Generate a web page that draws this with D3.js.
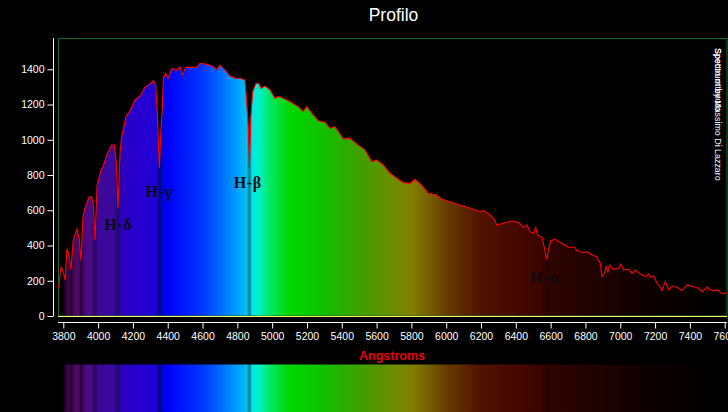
<!DOCTYPE html>
<html><head><meta charset="utf-8">
<script src="https://cdn.jsdelivr.net/npm/d3@7/dist/d3.min.js"></script>
<style>html,body{margin:0;background:#000;overflow:hidden}svg{display:block}text{font-family:"Liberation Sans",Arial,sans-serif}</style>
</head><body><svg id="c" width="728" height="412"></svg>
<script>
const chartTitle = "Profilo";
const xTitle = "Angstroms";
const xTicks = [3800,4000,4200,4400,4600,4800,5000,5200,5400,5600,5800,6000,6200,6400,6600,6800,7000,7200,7400,7600];
const yTicks = [0,200,400,600,800,1000,1200,1400];
const wavelengths = [3773,3787,3800,3810,3821,3833,3844,3857,3879,3892,3902,3913,3925,3949,3963,3972,3982,3994,4017,4028,4049,4078,4093,4105,4114,4126,4135,4160,4183,4212,4241,4269,4298,4317,4331,4340,4352,4361,4369,4375,4388,4403,4423,4451,4470,4484,4503,4566,4585,4624,4662,4681,4700,4729,4758,4787,4815,4844,4854,4863,4869,4877,4888,4907,4926,4936,4959,4988,5016,5035,5064,5103,5150,5179,5198,5236,5265,5304,5332,5361,5409,5447,5495,5534,5572,5601,5639,5677,5753,5792,5820,5859,5897,5945,5974,6078,6136,6194,6213,6252,6280,6290,6329,6376,6415,6443,6463,6482,6501,6515,6524,6552,6568,6578,6587,6600,6625,6663,6702,6740,6750,6788,6808,6837,6866,6875,6885,6895,6908,6919,6929,6938,6961,6990,7004,7019,7048,7067,7086,7115,7144,7163,7177,7192,7211,7230,7239,7259,7278,7298,7326,7355,7383,7422,7450,7470,7499,7528,7557,7586,7612];
const flux = [159,278,251,204,380,346,265,431,495,431,314,564,613,677,677,640,431,743,829,845,914,970,970,868,613,925,1018,1131,1165,1226,1249,1298,1317,1335,1311,1150,838,1056,1180,1349,1377,1349,1406,1392,1415,1368,1411,1411,1434,1428,1415,1396,1424,1396,1362,1349,1349,1339,1209,1074,847,1124,1273,1321,1317,1292,1305,1283,1236,1245,1236,1216,1188,1160,1188,1141,1108,1099,1065,1074,1005,1008,970,942,876,885,857,810,757,753,776,743,696,687,664,630,613,592,598,573,545,516,526,539,530,503,516,478,469,503,460,444,365,322,375,427,435,413,390,390,371,359,365,346,337,314,302,223,242,280,251,289,265,271,295,261,265,242,261,238,223,238,220,227,186,163,144,195,148,170,163,144,176,166,157,138,163,144,148,125,132];
const stopWave = [3800,3815,3835,3847,3860,3890,3902,3925,3960,3982,4000,4090,4114,4135,4250,4335,4352,4372,4400,4600,4700,4800,4855,4869,4885,4930,4990,5100,5300,5500,5700,5800,5850,6000,6200,6400,6545,6578,6610,6900,7200,7600];
const stopColor = ["#0a000c","#32003c","#3a0a4a","#200028","#4a0a5a","#4c0a66","#250035","#4c0a80","#4c0a88","#2a0a60","#3c0898","#3c08a0","#1c0a70","#2c00c0","#2600d0","#2000d8","#050a70","#0000e0","#0000f8","#0038ff","#0068ff","#00a0ff","#00c0f0","#107080","#00e8e8","#00f0c0","#00e860","#00d800","#10c000","#3ea000","#6c8c00","#7f8000","#7c7000","#683c00","#501200","#460800","#3a0400","#280400","#2e0400","#1c0202","#0c0000","#000000"];
const lineLabels = ["H-δ","H-γ","H-β","H-α"];
const labelWave = [4115,4350,4860,6565];
const labelFlux = [490,675,725,185];
const creditLines = ["Spettro ottenuto","Spectrum by Massimo Di Lazzaro"];

const svg = d3.select("#c");
const x = d3.scaleLinear().domain([3800,7600]).range([63.3,724.7]);
const y = d3.scaleLinear().domain([0,1400]).range([316,69.3]);
const pts = wavelengths.map((w,i)=>[w,flux[i]]);

const grad = svg.append("defs").append("linearGradient").attr("id","spec")
  .attr("gradientUnits","userSpaceOnUse").attr("x1",x(3800)).attr("x2",x(7600)).attr("y1",0).attr("y2",0);
stopWave.forEach((w,i)=>grad.append("stop").attr("offset",(w-3800)/3800).attr("stop-color",stopColor[i]));

svg.append("rect").attr("x",x(3800)).attr("y",364.5).attr("width",728-x(3800)).attr("height",48).attr("fill","url(#spec)");

svg.append("path").datum(pts.filter(d=>d[0]>=3800))
  .attr("fill","url(#spec)")
  .attr("d",d3.area().x(d=>x(d[0])).y0(y(0)).y1(d=>y(d[1])));

svg.append("rect").attr("x",58.5).attr("y",38.5).attr("width",668.5).attr("height",277.5)
  .attr("fill","none").attr("stroke","#1a6b2a").attr("stroke-width",1);

svg.append("path").datum(pts).attr("fill","none").attr("stroke","#f00").attr("stroke-width",1.1)
  .attr("d",d3.line().x(d=>x(d[0])).y(d=>y(d[1])));

svg.append("line").attr("x1",58).attr("x2",727).attr("y1",316.5).attr("y2",316.5).attr("stroke","#ffff70").attr("stroke-width",1.2);

const gx = svg.append("g").attr("transform","translate(0,322.5)")
  .call(d3.axisBottom(x).tickValues(xTicks).tickFormat(d3.format("d")).tickSize(6).tickSizeOuter(0).tickPadding(4));
gx.select(".domain").remove();
gx.append("line").attr("x1",58).attr("x2",727).attr("stroke","#fff");
gx.selectAll(".tick line").attr("stroke","#fff");
gx.selectAll("text").attr("fill","#fff").style("font-size","10.5px").attr("font-family",null);

const gy = svg.append("g").attr("transform","translate(53.5,0)")
  .call(d3.axisLeft(y).tickValues(yTicks).tickFormat(d3.format("d")).tickSize(6).tickSizeOuter(0).tickPadding(3));
gy.select(".domain").remove();
gy.append("line").attr("y1",38).attr("y2",316).attr("stroke","#fff");
gy.selectAll(".tick line").attr("stroke","#fff");
gy.selectAll("text").attr("fill","#fff").style("font-size","10.5px").attr("font-family",null);

svg.append("text").attr("x",393.5).attr("y",21).attr("text-anchor","middle").attr("fill","#fff").style("font-size","17.5px").text(chartTitle);
svg.append("text").attr("x",392).attr("y",360).attr("text-anchor","middle").attr("fill","#e8000c").style("font-size","12.5px").style("font-weight","bold").text(xTitle);

svg.selectAll(".ll").data(lineLabels).join("text").attr("class","ll")
  .attr("x",(d,i)=>x(labelWave[i])).attr("y",(d,i)=>y(labelFlux[i]))
  .attr("text-anchor","middle").attr("fill","#0c0c10")
  .style("font-family","'Liberation Serif',serif").style("font-weight","bold").style("font-size","16px").style("letter-spacing","0.6px").text(d=>d);

svg.selectAll(".cr").data(creditLines).join("text").attr("class","cr")
  .attr("transform",`translate(715,48) rotate(90)`)
  .attr("fill","#fff").style("font-size","8.9px").text(d=>d);
</script></body></html>
